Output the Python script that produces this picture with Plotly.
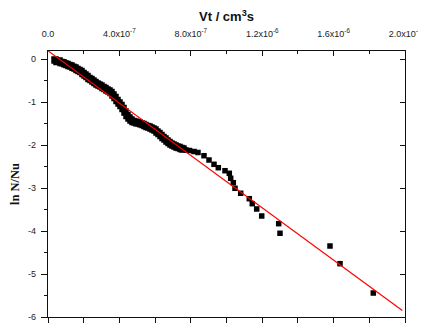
import plotly.graph_objects as go

# Measured data: Vt (cm^3 s) vs ln N/Nu  -- dense early region
vt_dense = [3.92e-8, 5.04e-8, 6.16e-8, 7.28e-8, 8.40e-8, 9.52e-8, 1.064e-7, 1.176e-7, 1.289e-7, 1.401e-7,
            1.513e-7, 1.625e-7, 1.737e-7, 1.849e-7, 1.961e-7, 2.073e-7, 2.185e-7, 2.297e-7, 2.409e-7, 2.521e-7,
            2.633e-7, 2.745e-7, 2.857e-7, 2.969e-7, 3.081e-7, 3.193e-7, 3.305e-7, 3.417e-7, 3.529e-7, 3.641e-7,
            3.754e-7, 3.866e-7, 3.978e-7, 4.090e-7, 4.202e-7, 4.314e-7, 4.426e-7, 4.538e-7, 4.650e-7, 4.762e-7,
            4.874e-7, 4.986e-7, 5.098e-7, 5.210e-7, 5.322e-7, 5.434e-7, 5.546e-7, 5.658e-7, 5.770e-7, 5.882e-7,
            5.994e-7, 6.106e-7, 6.218e-7, 6.331e-7, 6.443e-7, 6.555e-7, 6.667e-7, 6.779e-7, 6.891e-7, 7.003e-7,
            7.115e-7, 7.227e-7, 7.339e-7, 7.451e-7, 7.563e-7]
ln_dense = [-0.023, -0.058, -0.047, -0.081, -0.088, -0.112, -0.128, -0.151, -0.163, -0.193,
            -0.209, -0.244, -0.267, -0.291, -0.337, -0.372, -0.407, -0.453, -0.477, -0.512,
            -0.547, -0.581, -0.605, -0.628, -0.663, -0.686, -0.721, -0.744, -0.779, -0.837,
            -0.895, -0.965, -1.023, -1.081, -1.151, -1.233, -1.314, -1.372, -1.419, -1.453,
            -1.465, -1.484, -1.488, -1.507, -1.523, -1.547, -1.570, -1.581, -1.605, -1.628,
            -1.651, -1.698, -1.733, -1.779, -1.826, -1.860, -1.907, -1.942, -1.977, -2.000,
            -2.023, -2.047, -2.058, -2.081, -2.093]

# Later, sparser points
vt_sparse = [7.731e-7, 7.927e-7, 8.179e-7, 8.403e-7, 8.739e-7,
             9.020e-7, 9.300e-7, 9.541e-7, 9.916e-7, 1.0157e-6, 1.0235e-6, 1.0381e-6, 1.0476e-6, 1.0796e-6,
             1.1277e-6, 1.1445e-6, 1.1692e-6, 1.1972e-6, 1.2924e-6, 1.2997e-6, 1.5798e-6, 1.6359e-6, 1.8224e-6]
ln_sparse = [-2.116, -2.128, -2.151, -2.174, -2.249,
             -2.349, -2.449, -2.528, -2.598, -2.658, -2.774, -2.877, -3.007, -3.123,
             -3.249, -3.365, -3.488, -3.651, -3.830, -4.053, -4.349, -4.760, -5.442]

# Linear fit line endpoints
fit_vt = [0.0, 1.985e-6]
fit_ln = [0.19, -5.85]

# Top axis ticks
x_tickvals = [0.0, 4e-7, 8e-7, 1.2e-6, 1.6e-6, 2.0e-6]
x_ticktext = ["0.0", "4.0x10<sup>-7</sup>", "8.0x10<sup>-7</sup>", "1.2x10<sup>-6</sup>",
              "1.6x10<sup>-6</sup>", "2.0x10<sup>-6</sup>"]
y_tickvals = [0, -1, -2, -3, -4, -5, -6]
y_ticktext = ["0", "-1", "-2", "-3", "-4", "-5", "-6"]

XR = [0, 2.0e-6]
YR = [-6, 0.186]
AX = "#111111"
TXT = "#222222"

fig = go.Figure()
fig.add_trace(go.Scatter(x=vt_dense, y=ln_dense, mode="markers",
                         marker=dict(symbol="square", size=7.5, color="black", line=dict(width=0)),
                         showlegend=False))
fig.add_trace(go.Scatter(x=vt_sparse, y=ln_sparse, mode="markers",
                         marker=dict(symbol="square", size=5.5, color="black", line=dict(width=0)),
                         showlegend=False))
fig.add_trace(go.Scatter(x=fit_vt, y=fit_ln, mode="lines",
                         line=dict(color="#ff0000", width=1.2), showlegend=False))
# invisible trace to anchor the secondary axes
fig.add_trace(go.Scatter(x=[None], y=[None], xaxis="x2", yaxis="y2", showlegend=False,
                         mode="markers", hoverinfo="skip"))

# page body adds an 8px offset; margins compensate for it
fig.update_layout(
    width=426, height=330,
    margin=dict(l=40, r=28.5, t=43, b=20.5, autoexpand=False),
    paper_bgcolor="white", plot_bgcolor="white",
    font=dict(family="Liberation Sans, Arial", size=9, color=TXT),
    title=dict(text="<b>Vt / cm<sup>3</sup>s</b>", x=0.5, xref="paper", xanchor="center",
               y=1, yref="container", yanchor="top", pad=dict(t=4, b=0),
               font=dict(family="Liberation Sans, Arial", size=13, color="#111")),
    xaxis=dict(range=XR, showgrid=False, zeroline=False, showline=True, linecolor=AX, linewidth=1.3,
               ticks="outside", ticklen=5, tickwidth=1, tickcolor=AX, dtick=2e-7, tick0=0,
               showticklabels=False, mirror=False, automargin=False),
    xaxis2=dict(range=XR, overlaying="x", side="top", showgrid=False, zeroline=False,
                showline=True, linecolor=AX, linewidth=1.3, automargin=False,
                ticks="inside", ticklen=5, tickwidth=1, tickcolor=AX,
                tickmode="array", tickvals=x_tickvals, ticktext=x_ticktext,
                ticklabelstandoff=9,
                minor=dict(ticks="inside", ticklen=3, tickwidth=1, tickcolor=AX, dtick=2e-7, tick0=0,
                           showgrid=False),
                tickfont=dict(size=9, color=TXT)),
    yaxis=dict(range=YR, showgrid=False, zeroline=False, showline=True, linecolor=AX, linewidth=1.3,
               ticks="outside", ticklen=6, tickwidth=1, tickcolor=AX, automargin=False,
               tickmode="array", tickvals=y_tickvals, ticktext=y_ticktext,
               ticklabelstandoff=3,
               minor=dict(ticks="outside", ticklen=3, tickwidth=1, tickcolor=AX, dtick=0.5, tick0=0,
                          showgrid=False),
               tickfont=dict(size=9, color=TXT),
               title=dict(text="<b>ln N/Nu</b>", standoff=10,
                          font=dict(family="Liberation Serif, Times New Roman", size=12.5, color="#111"))),
    yaxis2=dict(range=YR, overlaying="y", side="right", showgrid=False, zeroline=False,
                showline=True, linecolor=AX, linewidth=1.3, automargin=False,
                ticks="inside", ticklen=5, tickwidth=1, tickcolor=AX,
                tickmode="array", tickvals=y_tickvals, showticklabels=False),
)

fig.write_html("out.html")
